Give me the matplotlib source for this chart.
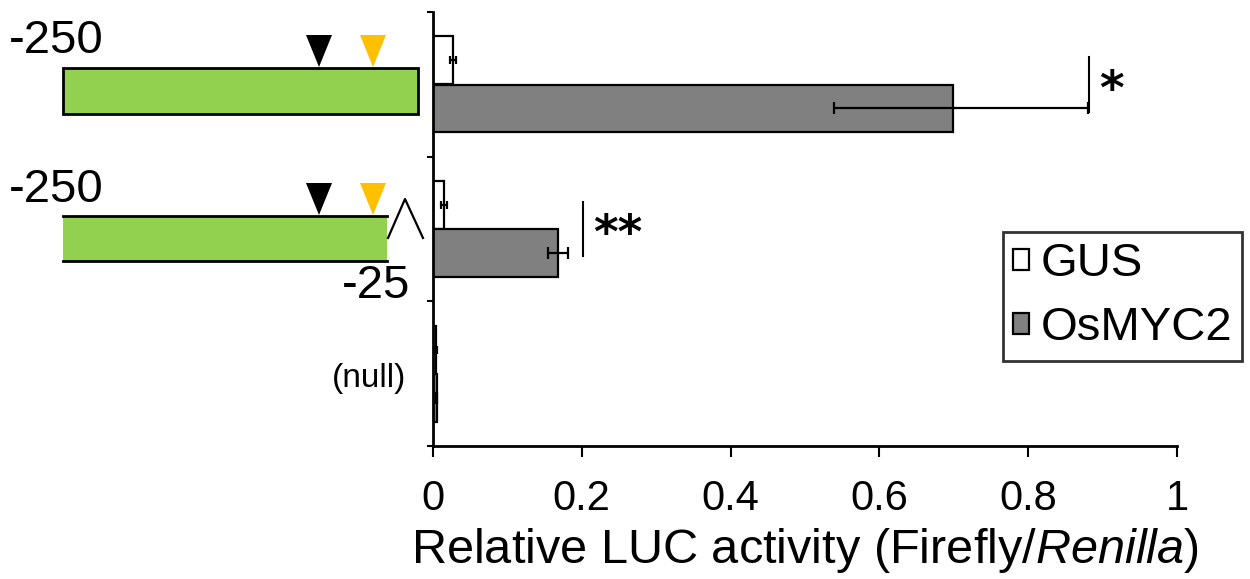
import matplotlib
matplotlib.use("Agg")
import matplotlib.pyplot as plt
from matplotlib.patches import Rectangle, Polygon
import numpy as np

# ---- data ----
constructs = ["-250 full", "-250 to -25", "null"]
series = ["GUS", "OsMYC2"]
gus_vals = [0.027, 0.015, 0.004]
gus_err = [0.004, 0.004, 0.001]
myc_vals = [0.699, 0.168, 0.005]
myc_err_lo = [0.160, 0.014, 0.001]
myc_err_hi = [0.181, 0.014, 0.001]
x_ticks = [0, 0.2, 0.4, 0.6, 0.8, 1]
x_tick_labels = ["0", "0.2", "0.4", "0.6", "0.8", "1"]
sig_labels = ["*", "**", ""]
sig_x = [0.882, 0.202, None]

plt.rcParams['font.family'] = ['Liberation Sans', 'DejaVu Sans']
plt.rcParams['mathtext.fontset'] = 'custom'
plt.rcParams['mathtext.it'] = 'Liberation Sans:italic'
plt.rcParams['mathtext.rm'] = 'Liberation Sans'

W, H = 1250, 579
fig = plt.figure(figsize=(W / 100, H / 100), dpi=100)
fig.patch.set_facecolor('white')

L, R, T, B = 433, 1177, 12, 446
ax = fig.add_axes([L / W, 1 - B / H, (R - L) / W, (B - T) / H])
ax.set_facecolor('none')

n = len(constructs)
centers = np.arange(n) + 0.5
bh = 0.33
off = 0.167
lw = 1.6

ax.barh(centers - off, gus_vals, height=bh, color='white', edgecolor='black',
        linewidth=lw, label=series[0], zorder=2)
ax.barh(centers + off, myc_vals, height=bh, color='#808080', edgecolor='black',
        linewidth=lw, label=series[1], zorder=2)
ax.errorbar(gus_vals, centers - off, xerr=gus_err, fmt='none', ecolor='black',
            elinewidth=1.6, capsize=3, capthick=1.6, zorder=3)
ax.errorbar(myc_vals, centers + off, xerr=[myc_err_lo, myc_err_hi], fmt='none',
            ecolor='black', elinewidth=1.6, capsize=4, capthick=1.6, zorder=3)

for i, (lab, sx) in enumerate(zip(sig_labels, sig_x)):
    if sx is None:
        continue
    ax.plot([sx, sx], [i + 0.31, i + 0.69], color='black', lw=1.5, clip_on=False)
    ax.annotate(lab, xy=(sx, i + 0.5), xytext=(7, -14), textcoords='offset points',
                fontsize=34, fontweight='bold', family='DejaVu Sans',
                ha='left', va='baseline')

ax.set_xlim(0, 1)
ax.set_ylim(n, 0)
ax.set_xticks(x_ticks)
ax.set_xticklabels(x_tick_labels, fontsize=30)
ax.set_yticks(np.arange(n + 1))
ax.set_yticklabels([])
ax.tick_params(axis='x', direction='out', length=8, width=1.5, pad=16)
ax.tick_params(axis='y', direction='out', length=4, width=1.5)
for s in ['top', 'right']:
    ax.spines[s].set_visible(False)
for s in ['left', 'bottom']:
    ax.spines[s].set_linewidth(2)
ax.set_xlabel("Relative LUC activity (Firefly/$\\mathit{Renilla}$)", fontsize=35,
              labelpad=5)

leg = ax.legend(loc='upper left', bbox_to_anchor=(1003 / W, 1 - 232 / H),
                bbox_transform=fig.transFigure, borderaxespad=0, fontsize=34,
                frameon=True, fancybox=False, edgecolor='black',
                handlelength=0.32, handleheight=0.3, handletextpad=0.25,
                labelspacing=0.42, borderpad=0.22)
leg.get_frame().set_linewidth(2)

# ---- promoter diagrams (overlay in pixel coordinates) ----
ov = fig.add_axes([0, 0, 1, 1], zorder=-1)
ov.set_xlim(0, W)
ov.set_ylim(H, 0)
ov.axis('off')

green = '#92D050'
yellow = '#FFC000'
# construct 1
ov.add_patch(Rectangle((63, 68), 355, 46, facecolor=green, edgecolor='black', lw=2))
# construct 2 (no end borders)
ov.add_patch(Rectangle((63, 216), 324, 45, facecolor=green, edgecolor='none'))
ov.plot([63, 387], [216, 216], color='black', lw=2)
ov.plot([63, 387], [261, 261], color='black', lw=2)
for ytip in (67, 215):
    ov.add_patch(Polygon([[306, ytip - 32], [332, ytip - 32], [319, ytip]],
                         closed=True, facecolor='black', edgecolor='none'))
    ov.add_patch(Polygon([[360, ytip - 32], [386, ytip - 32], [373, ytip]],
                         closed=True, facecolor=yellow, edgecolor='none'))
ov.plot([388, 405, 423], [238, 199, 238], color='black', lw=1.6)

ov.text(9, 41, "-250", fontsize=34, ha='left', va='center')
ov.text(9, 190, "-250", fontsize=34, ha='left', va='center')
ov.text(410, 286, "-25", fontsize=34, ha='right', va='center')
ov.text(406, 378, "(null)", fontsize=24, ha='right', va='center')

fig.savefig("out.png", dpi=100, facecolor='white')
